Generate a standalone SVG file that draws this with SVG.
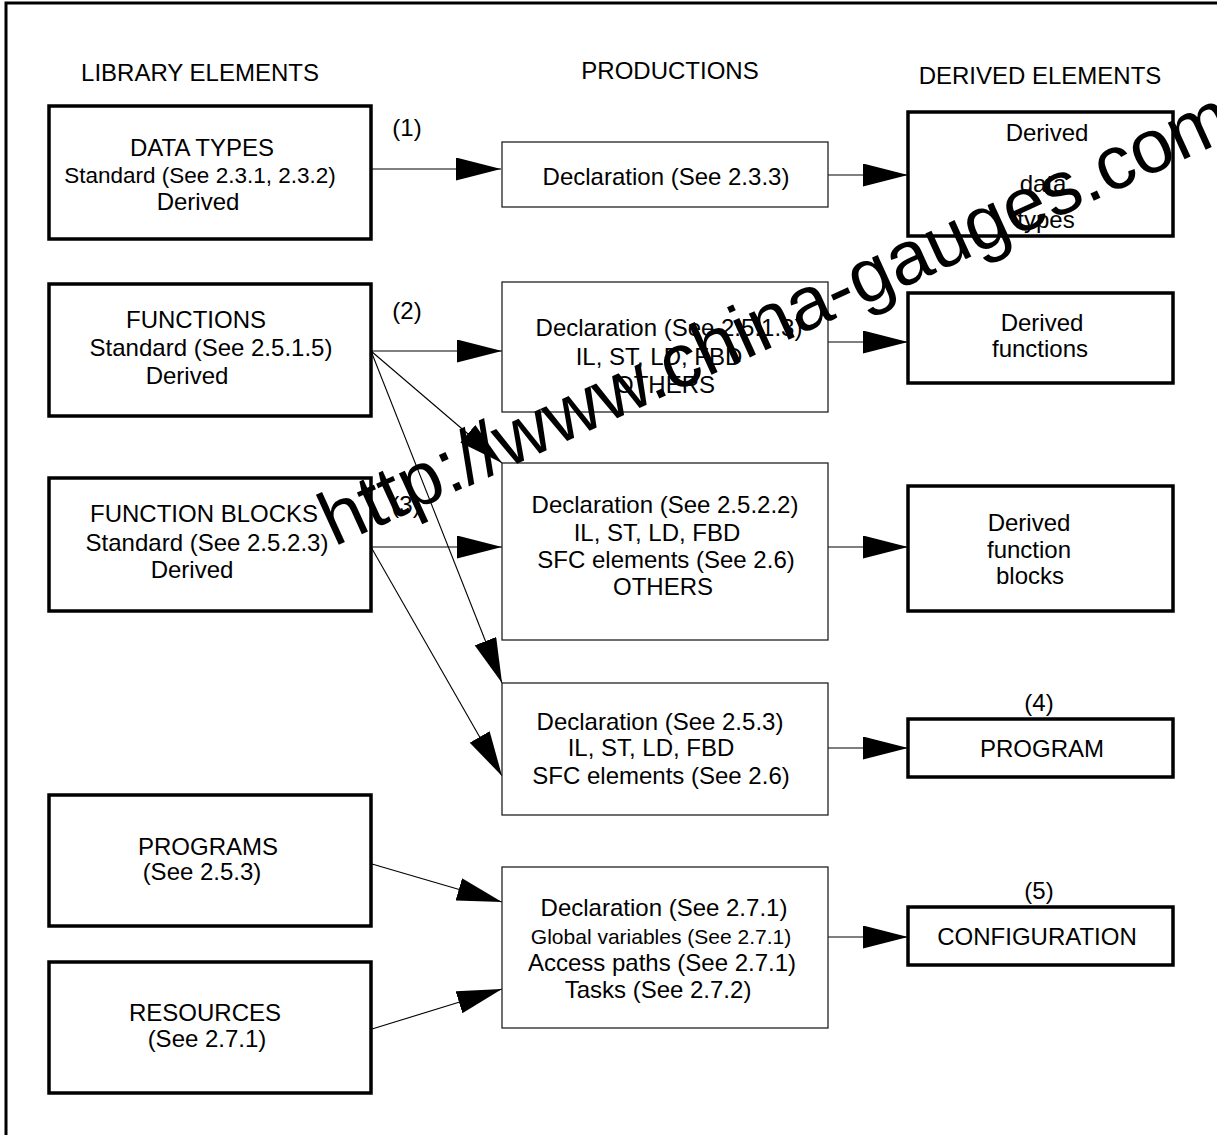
<svg xmlns="http://www.w3.org/2000/svg" width="1217" height="1135" viewBox="0 0 1217 1135">
<defs>
<marker id="ah" markerUnits="userSpaceOnUse" markerWidth="45" markerHeight="23" refX="45" refY="11.5" orient="auto"><path d="M0,0 L45,11.5 L0,23 Z" fill="#000"/></marker>
</defs>
<style>
text{font-family:"Liberation Sans",Arial,sans-serif;font-size:24px;fill:#000;text-anchor:middle}
.thick{fill:#fff;stroke:#000;stroke-width:3.5}
.thin{fill:#fff;stroke:#222;stroke-width:1.3}
.conn{stroke:#000;stroke-width:1.1;fill:none;marker-end:url(#ah)}
.small{font-size:21px}
.wm{font-size:76px;text-anchor:start}
</style>
<rect width="1217" height="1135" fill="#fff"/>
<path d="M6,1135 V3 H1217" fill="none" stroke="#000" stroke-width="3"/>
<g id="headings">
<text x="200" y="81">LIBRARY ELEMENTS</text>
<text x="670" y="79">PRODUCTIONS</text>
<text x="1040" y="84">DERIVED ELEMENTS</text>
</g>
<g id="connectors">
<path class="conn" d="M371,169 L501,169"/>
<path class="conn" d="M828,175 L908,175"/>
<path class="conn" d="M371,351 L502,351"/>
<path class="conn" d="M371,351 L502,463"/>
<path class="conn" d="M371,351 L502,683"/>
<path class="conn" d="M828,342 L908,342"/>
<path class="conn" d="M371,547 L502,547"/>
<path class="conn" d="M371,547 L502,776"/>
<path class="conn" d="M828,547 L908,547"/>
<path class="conn" d="M828,748 L908,748"/>
<path class="conn" d="M372,864 L502,902"/>
<path class="conn" d="M372,1029 L502,989"/>
<path class="conn" d="M828,937 L908,937"/>
<text x="407" y="136">(1)</text>
<text x="407" y="319">(2)</text>
<text x="406" y="513">(3)</text>
</g>
<g id="lib-datatypes">
<rect class="thick" x="49" y="106" width="322" height="133"/>
<text x="202" y="156">DATA TYPES</text>
<text x="200" y="183" style="font-size:22.5px">Standard (See 2.3.1, 2.3.2)</text>
<text x="198" y="210">Derived</text>
</g>
<g id="lib-functions">
<rect class="thick" x="49" y="284" width="322" height="132"/>
<text x="196" y="328">FUNCTIONS</text>
<text x="211" y="356">Standard (See 2.5.1.5)</text>
<text x="187" y="384">Derived</text>
</g>
<g id="lib-fb">
<rect class="thick" x="49" y="478" width="322" height="133"/>
<text x="204" y="522">FUNCTION BLOCKS</text>
<text x="207" y="551">Standard (See 2.5.2.3)</text>
<text x="192" y="578">Derived</text>
</g>
<g id="lib-programs">
<rect class="thick" x="49" y="795" width="322" height="131"/>
<text x="208" y="855">PROGRAMS</text>
<text x="202" y="880">(See 2.5.3)</text>
</g>
<g id="lib-resources">
<rect class="thick" x="49" y="962" width="322" height="131"/>
<text x="205" y="1021">RESOURCES</text>
<text x="207" y="1047">(See 2.7.1)</text>
</g>
<g id="prod-1">
<rect class="thin" x="502" y="142" width="326" height="65"/>
<text x="666" y="185">Declaration (See 2.3.3)</text>
</g>
<g id="prod-2">
<rect class="thin" x="502" y="282" width="326" height="130"/>
<text x="669" y="336">Declaration (See 2.5.1.3)</text>
<text x="659" y="365">IL, ST, LD, FBD</text>
<text x="665" y="393">OTHERS</text>
</g>
<g id="prod-3">
<rect class="thin" x="502" y="463" width="326" height="177"/>
<text x="665" y="513">Declaration (See 2.5.2.2)</text>
<text x="657" y="541">IL, ST, LD, FBD</text>
<text x="666" y="568">SFC elements (See 2.6)</text>
<text x="663" y="595">OTHERS</text>
</g>
<g id="prod-4">
<rect class="thin" x="502" y="683" width="326" height="132"/>
<text x="660" y="730">Declaration (See 2.5.3)</text>
<text x="651" y="756">IL, ST, LD, FBD</text>
<text x="661" y="784">SFC elements (See 2.6)</text>
</g>
<g id="prod-5">
<rect class="thin" x="502" y="867" width="326" height="161"/>
<text x="664" y="916">Declaration (See 2.7.1)</text>
<text class="small" x="661" y="944">Global variables (See 2.7.1)</text>
<text x="662" y="971">Access paths (See 2.7.1)</text>
<text x="658" y="998">Tasks (See 2.7.2)</text>
</g>
<g id="der-datatypes">
<rect class="thick" x="908" y="112" width="265" height="124"/>
<text x="1047" y="141">Derived</text>
<text x="1043" y="192">data</text>
<text x="1046" y="228">types</text>
</g>
<g id="der-functions">
<rect class="thick" x="908" y="293" width="265" height="90"/>
<text x="1042" y="331">Derived</text>
<text x="1040" y="357">functions</text>
</g>
<g id="der-fb">
<rect class="thick" x="908" y="486" width="265" height="125"/>
<text x="1029" y="531">Derived</text>
<text x="1029" y="558">function</text>
<text x="1030" y="584">blocks</text>
</g>
<g id="der-program">
<text x="1039" y="711">(4)</text>
<rect class="thick" x="908" y="719" width="265" height="58"/>
<text x="1042" y="757">PROGRAM</text>
</g>
<g id="der-configuration">
<text x="1039" y="899">(5)</text>
<rect class="thick" x="908" y="907" width="265" height="58"/>
<text x="1037" y="945">CONFIGURATION</text>
</g>
<g id="watermark">
<text class="wm" x="334" y="547" transform="rotate(-24.5 334 547)">http://www.china-gauges.com</text>
</g>
</svg>
